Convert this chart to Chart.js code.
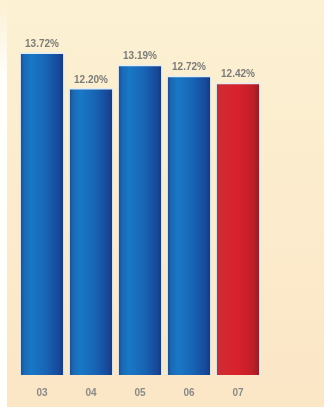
<!DOCTYPE html>
<html>
<head>
<meta charset="utf-8">
<script src="https://cdn.jsdelivr.net/npm/chart.js@4/dist/chart.umd.min.js"></script>
<style>
  html, body { margin: 0; padding: 0; background: #fbeccc; }
  #wrap { width: 324px; height: 407px; position: relative; }
</style>
</head>
<body>
<div id="wrap"><canvas id="c" width="324" height="407"></canvas></div>
<script>
// Years shown along the bottom
const years = ['03', '04', '05', '06', '07'];
// Yearly rate, in percent
const rates = [13.72, 12.20, 13.19, 12.72, 12.42];
// Text printed above each bar
const rateLabels = ['13.72%', '12.20%', '13.19%', '12.72%', '12.42%'];
// Which bar is highlighted (the latest year)
const highlight = [false, false, false, false, true];

const BAR_PCT = 0.86;
const blueStops = [[0, '#244e88'], [0.08, '#1a6ab6'], [0.25, '#1878c6'], [0.6, '#1864b4'], [0.9, '#17489a'], [1, '#1b3a76']];
const redStops  = [[0, '#b4343c'], [0.1, '#d22a32'], [0.5, '#d8222c'], [0.85, '#c01e28'], [1, '#8e2028']];

// Horizontal shading across one bar, positioned from the category scale
function barFill(context) {
  const chart = context.chart;
  const xs = chart.scales.x;
  if (!chart.chartArea || !xs) return highlight[context.dataIndex] ? '#d8222c' : '#1866b4';
  const i = context.dataIndex;
  const cx = xs.getPixelForValue(i);
  const w = (xs.width / years.length) * BAR_PCT;
  const g = chart.ctx.createLinearGradient(cx - w / 2, 0, cx + w / 2, 0);
  (highlight[i] ? redStops : blueStops).forEach(([o, c]) => g.addColorStop(o, c));
  return g;
}

// Paper-like cream background with a pale strip at the left edge
const backdrop = {
  id: 'backdrop',
  beforeDraw(chart) {
    const { ctx, width, height } = chart;
    ctx.save();
    const g = ctx.createLinearGradient(0, 0, 0, height);
    g.addColorStop(0, '#fcf1d3');
    g.addColorStop(1, '#fbe6c6');
    ctx.fillStyle = g;
    ctx.fillRect(0, 0, width, height);
    const s = ctx.createLinearGradient(0, 0, 0, 80);
    s.addColorStop(0, 'rgba(255,255,252,0)');
    s.addColorStop(1, 'rgba(255,255,252,1)');
    ctx.fillStyle = s;
    ctx.fillRect(0, 0, 7, 80);
    ctx.fillStyle = '#fffffc';
    ctx.fillRect(0, 80, 7, height - 80);
    ctx.restore();
  }
};

// Thin light rim around each bar, and the value text on top
const barStyle = {
  id: 'barStyle',
  beforeDatasetsDraw(chart) {
    const { ctx } = chart;
    const meta = chart.getDatasetMeta(0);
    ctx.save();
    ctx.fillStyle = 'rgba(225,236,244,0.95)';
    meta.data.forEach((bar) => {
      const p = bar.getProps(['x', 'y', 'base', 'width'], true);
      ctx.fillRect(p.x - p.width / 2 - 1.5, p.y - 1.5, p.width + 3, p.base - p.y + 1.5);
    });
    ctx.restore();
  },
  afterDatasetsDraw(chart) {
    const { ctx } = chart;
    const meta = chart.getDatasetMeta(0);
    ctx.save();
    ctx.font = 'bold 10px "Liberation Sans"';
    ctx.fillStyle = '#7c7c7a';
    ctx.textAlign = 'center';
    ctx.textBaseline = 'alphabetic';
    meta.data.forEach((bar, i) => {
      const p = bar.getProps(['x', 'y'], true);
      ctx.fillText(rateLabels[i], p.x, p.y - 7);
    });
    ctx.restore();
  }
};

new Chart(document.getElementById('c'), {
  type: 'bar',
  data: {
    labels: years,
    datasets: [{
      data: rates,
      backgroundColor: barFill,
      borderWidth: 0,
      barPercentage: BAR_PCT,
      categoryPercentage: 1.0
    }]
  },
  options: {
    responsive: false,
    animation: false,
    events: [],
    layout: { padding: { left: 17.5, right: 61.5, top: 24, bottom: 8 } },
    plugins: { legend: { display: false }, tooltip: { enabled: false } },
    scales: {
      x: {
        grid: { display: false, drawTicks: false },
        border: { display: false },
        afterFit(scale) { scale.height = 24; },
        ticks: {
          padding: 12,
          color: '#8a8a88',
          font: { family: 'Liberation Sans', size: 10, weight: 'bold' }
        }
      },
      y: {
        display: false,
        min: 0,
        max: 15
      }
    }
  },
  plugins: [backdrop, barStyle]
});
</script>
</body>
</html>
